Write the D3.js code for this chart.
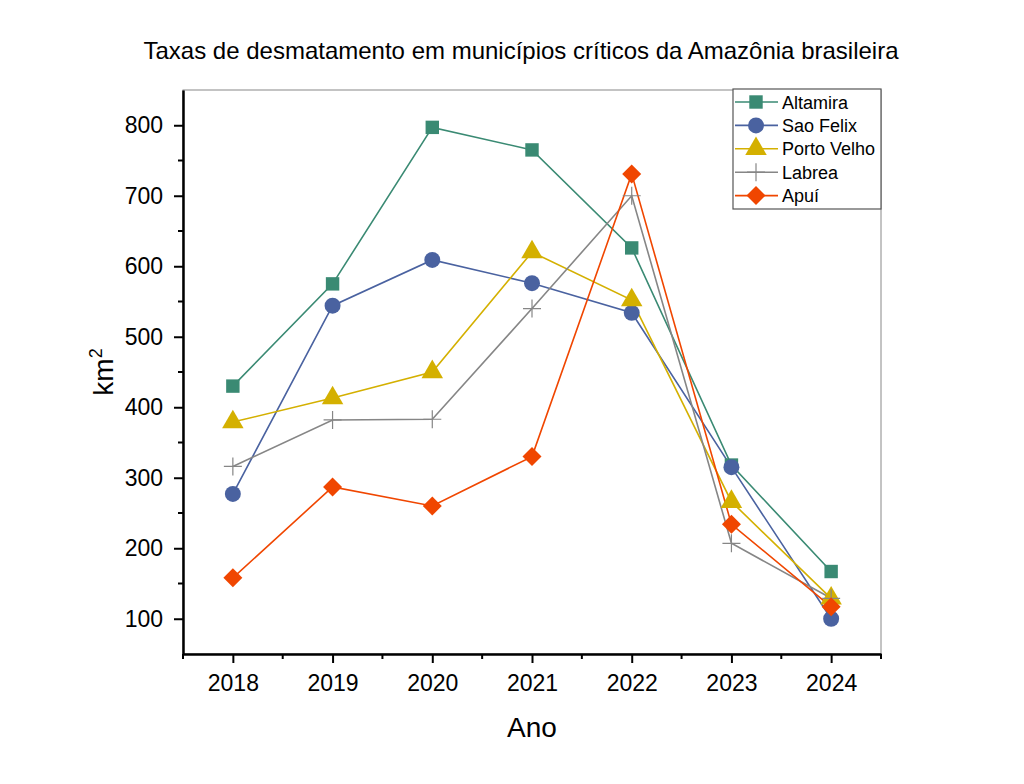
<!DOCTYPE html>
<html>
<head>
<meta charset="utf-8">
<script src="https://cdn.jsdelivr.net/npm/d3@7"></script>
<style>
  body { margin: 0; background: #fff; }
  text { font-family: "Liberation Sans", Arial, sans-serif; fill: #000; }
</style>
</head>
<body>
<svg id="chart" width="1024" height="784"></svg>
<script>
const years = [2018, 2019, 2020, 2021, 2022, 2023, 2024];
const altamira = [430, 575, 797, 765, 626, 318, 167];
const saoFelix = [277, 544, 609, 576, 534, 315, 100];
const portoVelho = [379, 413, 450, 620, 552, 266, 129];
const labrea = [316, 382, 383, 540, 700, 207, 129];
const apui = [158, 287, 260, 330, 731, 234, 117];

const seriesNames = ['Altamira', 'Sao Felix', 'Porto Velho', 'Labrea', 'Apuí'];
const seriesValues = [altamira, saoFelix, portoVelho, labrea, apui];
const seriesColors = ['#3a8a73', '#4a62a0', '#d4b000', '#868686', '#f04600'];
const seriesSymbols = [d3.symbolSquare, d3.symbolCircle, d3.symbolTriangle, null, d3.symbolDiamond2];
const symbolSizes = [180, 200, 200, 0, 230];

const margin = {left: 183, top: 90, right: 143, bottom: 130};
const width = 1024 - margin.left - margin.right;
const height = 784 - margin.top - margin.bottom;

const svg = d3.select('#chart');
const g = svg.append('g').attr('transform', `translate(${margin.left},${margin.top})`);

const x = d3.scaleLinear().domain([2017.5, 2024.5]).range([0, width]);
const y = d3.scaleLinear().domain([50, 850]).range([height, 0]);

// frame (top / right)
g.append('rect')
  .attr('width', width).attr('height', height)
  .attr('fill', 'none').attr('stroke', '#888').attr('stroke-width', 1);

// minor ticks
const yMinor = d3.range(150, 850, 100);
g.append('g').selectAll('line').data(yMinor).join('line')
  .attr('x1', -5).attr('x2', 0)
  .attr('y1', d => y(d)).attr('y2', d => y(d))
  .attr('stroke', '#000').attr('stroke-width', 2);
const xMinor = d3.range(2017.5, 2025, 1);
g.append('g').selectAll('line').data(xMinor).join('line')
  .attr('x1', d => x(d)).attr('x2', d => x(d))
  .attr('y1', height).attr('y2', height + 5)
  .attr('stroke', '#000').attr('stroke-width', 2);

const yAxis = g.append('g')
  .call(d3.axisLeft(y).tickValues(d3.range(100, 801, 100)).tickSize(9).tickSizeOuter(0).tickPadding(11));
const xAxis = g.append('g').attr('transform', `translate(0,${height})`)
  .call(d3.axisBottom(x).tickValues(years).tickFormat(d3.format('d')).tickSize(9).tickSizeOuter(0).tickPadding(12));
[yAxis, xAxis].forEach(a => {
  a.select('.domain').attr('stroke', '#000').attr('stroke-width', 2.5);
  a.selectAll('.tick line').attr('stroke', '#000').attr('stroke-width', 2);
  a.selectAll('.tick text').attr('font-size', 23).attr('font-family', '"Liberation Sans", Arial, sans-serif').attr('fill', '#000');
});

// lines
const line = d3.line().x((d, i) => x(years[i])).y(d => y(d));
seriesValues.forEach((vals, s) => {
  g.append('path').datum(vals)
    .attr('d', line).attr('fill', 'none')
    .attr('stroke', seriesColors[s]).attr('stroke-width', 1.6);
});

function drawMarker(sel, s, cx, cy) {
  if (seriesSymbols[s]) {
    sel.append('path')
      .attr('d', d3.symbol().type(seriesSymbols[s]).size(symbolSizes[s])())
      .attr('transform', `translate(${cx},${cy})`)
      .attr('fill', seriesColors[s]);
  } else {
    sel.append('path')
      .attr('d', `M${cx - 9},${cy}H${cx + 9}M${cx},${cy - 9}V${cy + 9}`)
      .attr('stroke', seriesColors[s]).attr('stroke-width', 1.2);
  }
}

seriesValues.forEach((vals, s) => {
  const mg = g.append('g');
  vals.forEach((v, i) => drawMarker(mg, s, x(years[i]), y(v)));
});

// legend
const lg = svg.append('g').attr('transform', 'translate(733,89)');
lg.append('rect').attr('width', 148).attr('height', 120)
  .attr('fill', '#fff').attr('stroke', '#555').attr('stroke-width', 1.2);
seriesNames.forEach((name, s) => {
  const cy = 13 + s * 23.4;
  lg.append('line').attr('x1', 2).attr('x2', 45).attr('y1', cy).attr('y2', cy)
    .attr('stroke', seriesColors[s]).attr('stroke-width', 1.6);
  drawMarker(lg, s, 23, cy);
  lg.append('text').attr('x', 49).attr('y', cy + 6.5)
    .attr('font-size', 18).text(name);
});

// titles
svg.append('text').attr('x', 521).attr('y', 59).attr('text-anchor', 'middle')
  .attr('font-size', 24).text('Taxas de desmatamento em municípios críticos da Amazônia brasileira');
svg.append('text').attr('x', margin.left + width / 2).attr('y', 737).attr('text-anchor', 'middle')
  .attr('font-size', 28).text('Ano');
const yl = svg.append('text').attr('transform', 'translate(113,372) rotate(-90)')
  .attr('text-anchor', 'middle').attr('font-size', 28);
yl.append('tspan').text('km');
yl.append('tspan').attr('font-size', 18).attr('dy', -11).text('2');
</script>
</body>
</html>
